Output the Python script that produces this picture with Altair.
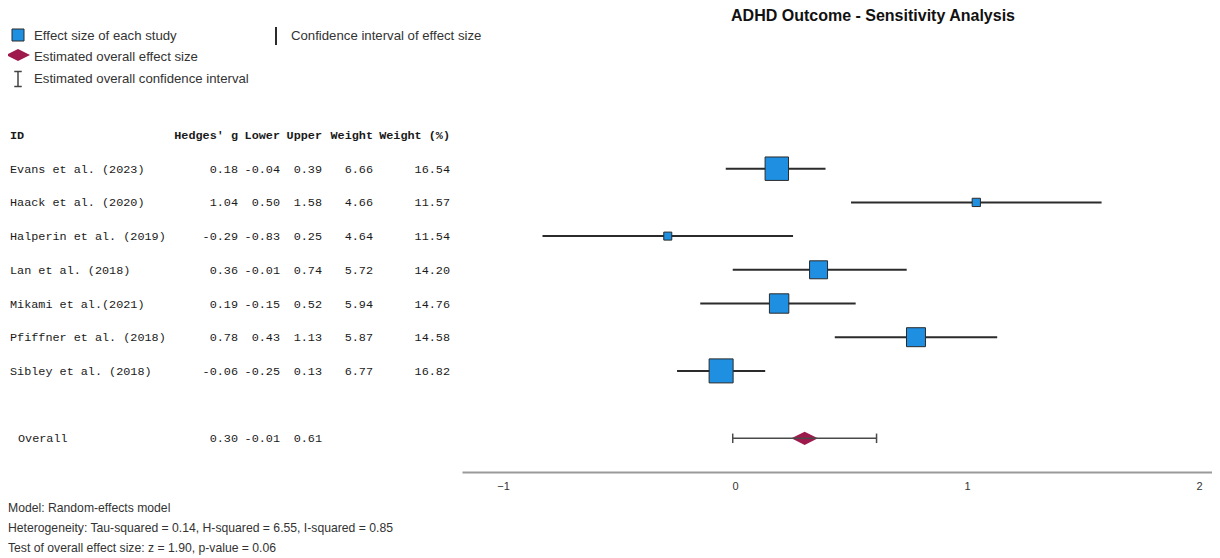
import altair as alt
import pandas as pd

# ---------------- data ----------------
studies = ["Evans et al. (2023)", "Haack et al. (2020)", "Halperin et al. (2019)",
           "Lan et al. (2018)", "Mikami et al.(2021)", "Pfiffner et al. (2018)",
           "Sibley et al. (2018)"]
hedges_g = [0.18, 1.04, -0.29, 0.36, 0.19, 0.78, -0.06]
lower = [-0.04, 0.50, -0.83, -0.01, -0.15, 0.43, -0.25]
upper = [0.39, 1.58, 0.25, 0.74, 0.52, 1.13, 0.13]
weight = [6.66, 4.66, 4.64, 5.72, 5.94, 5.87, 6.77]
weight_pct = [16.54, 11.57, 11.54, 14.20, 14.76, 14.58, 16.82]

overall_label = "Overall"
overall_g = 0.30
overall_lower = -0.01
overall_upper = 0.61

x_ticks = [-1, 0, 1, 2]
headers = ["ID", "Hedges' g", "Lower", "Upper", "Weight", "Weight (%)"]
title_text = "ADHD Outcome - Sensitivity Analysis"
legend_labels = ["Effect size of each study", "Estimated overall effect size",
                 "Estimated overall confidence interval", "Confidence interval of effect size"]
footer_lines = ["Model: Random-effects model",
                "Heterogeneity: Tau-squared = 0.14, H-squared = 6.55, I-squared = 0.85",
                "Test of overall effect size: z = 1.90, p-value = 0.06"]

# ---------------- tables ----------------
study_df = pd.DataFrame({
    "id": studies,
    "row": list(range(1, len(studies) + 1)),
    "g": hedges_g, "lo": lower, "hi": upper,
    "w": weight, "wp": weight_pct,
})
for c in ["g", "lo", "hi", "w", "wp"]:
    study_df[c + "_s"] = study_df[c].map(lambda v: f"{v:.2f}")

overall_df = pd.DataFrame({
    "id": [overall_label], "row": [len(studies) + 2],
    "g": [overall_g], "lo": [overall_lower], "hi": [overall_upper],
})
for c in ["g", "lo", "hi"]:
    overall_df[c + "_s"] = overall_df[c].map(lambda v: f"{v:.2f}")

header_df = pd.DataFrame({"h": headers, "row": [0] * len(headers)})

one = alt.Data(values=[{}])

# ---------------- styles ----------------
BLUE = "#1E8FE1"
MAROON = "#9E1A4C"
DARK = "#2b2b2b"
MONO = "Liberation Mono"
SANS = "Liberation Sans"
DIAMOND = "M-1,0L0,-0.5L1,0L0,0.5Z"

W = 1204
H = 550
AXIS_Y = 464

xscale = alt.Scale(domain=[-1.177, 2.056], range=[454, W], nice=False, zero=False)
yscale = alt.Scale(domain=[0, 10], range=[127, AXIS_Y], nice=False, zero=False)

X = lambda f: alt.X(f, type="quantitative", scale=xscale,
                    axis=alt.Axis(values=x_ticks, title=None, grid=False, ticks=False,
                                  domainColor="#9a9a9a", domainWidth=2, labelFontSize=11,
                                  labelColor="#333", labelFont=SANS, labelPadding=8,
                                  format="d", offset=AXIS_Y - H))
Y = alt.Y("row:Q", scale=yscale, axis=None)

# ---------------- forest plot ----------------
squares = alt.Chart(study_df).mark_square(
    filled=True, fill=BLUE, stroke=DARK, strokeWidth=1, opacity=1
).encode(
    x=X("g"), y=Y,
    size=alt.Size("w:Q", scale=alt.Scale(domain=[4.64, 6.77], range=[64, 576]), legend=None),
)
ci = alt.Chart(study_df).mark_rule(color=DARK, strokeWidth=2).encode(
    x=X("lo"), x2="hi", y=Y)

diamond = alt.Chart(overall_df).mark_point(
    shape=DIAMOND, filled=True, fill=MAROON, opacity=1, size=700, strokeWidth=0
).encode(x=X("g"), y=Y)
ov_ci = alt.Chart(overall_df).mark_rule(color="#4a4a4a", strokeWidth=1.5).encode(
    x=X("lo"), x2="hi", y=Y)
cap_lo = alt.Chart(overall_df).mark_point(
    shape="M0,-1L0,1", filled=False, color="#4a4a4a", strokeWidth=1.5, size=90, opacity=1
).encode(x=X("lo"), y=Y)
cap_hi = alt.Chart(overall_df).mark_point(
    shape="M0,-1L0,1", filled=False, color="#4a4a4a", strokeWidth=1.5, size=90, opacity=1
).encode(x=X("hi"), y=Y)

# ---------------- table text ----------------
FS = 11.8


def col(df, field, xpos, align="right", weight="normal"):
    return alt.Chart(df).mark_text(
        align=align, baseline="middle", font=MONO, fontSize=FS, color="#1a1a1a",
        fontWeight=weight
    ).encode(x=alt.value(xpos), y=Y, text=field + ":N")


col_x = [2, 230, 272, 314, 365, 442]
table = [
    col(study_df, "id", col_x[0], "left"),
    col(study_df, "g_s", col_x[1]),
    col(study_df, "lo_s", col_x[2]),
    col(study_df, "hi_s", col_x[3]),
    col(study_df, "w_s", col_x[4]),
    col(study_df, "wp_s", col_x[5]),
    col(overall_df, "id", 10, "left"),
    col(overall_df, "g_s", col_x[1]),
    col(overall_df, "lo_s", col_x[2]),
    col(overall_df, "hi_s", col_x[3]),
]
header_layers = [
    col(header_df.iloc[[i]], "h", col_x[i], "left" if i == 0 else "right", "bold")
    for i in range(len(headers))
]

# ---------------- legend ----------------
LFS = 13.2


def label(txt, x, y, size=LFS):
    return alt.Chart(one).mark_text(
        align="left", baseline="middle", font=SANS, fontSize=size, color="#333", text=txt
    ).encode(x=alt.value(x), y=alt.value(y))


leg = [
    alt.Chart(one).mark_square(filled=True, fill=BLUE, stroke=DARK, strokeWidth=1,
                               size=144, opacity=1).encode(x=alt.value(10), y=alt.value(27)),
    label(legend_labels[0], 26, 28),
    alt.Chart(one).mark_point(shape=DIAMOND, filled=True, fill=MAROON,
                              size=576, opacity=1, strokeWidth=0).encode(x=alt.value(10), y=alt.value(47)),
    label(legend_labels[1], 26, 49),
    alt.Chart(one).mark_point(shape="M-0.5,-1L0.5,-1M0,-1L0,1M-0.5,1L0.5,1", filled=False,
                              color="#444", strokeWidth=1.5, size=225, opacity=1
                              ).encode(x=alt.value(10), y=alt.value(71)),
    label(legend_labels[2], 26, 71),
    alt.Chart(one).mark_rule(color=DARK, strokeWidth=2).encode(
        x=alt.value(268), y=alt.value(19), y2=alt.value(37)),
    label(legend_labels[3], 283, 28),
]

title = alt.Chart(one).mark_text(
    align="center", baseline="alphabetic", font=SANS, fontSize=16, fontWeight="bold",
    color="#111", text=title_text
).encode(x=alt.value(865), y=alt.value(13))

footer = [label(t, 0, 500 + 20 * i, 12.2) for i, t in enumerate(footer_lines)]

chart = alt.layer(
    ci, squares, diamond, ov_ci, cap_lo, cap_hi,
    *table, *header_layers, *leg, title, *footer
).properties(
    width=W, height=H, padding=0,
    autosize=alt.AutoSizeParams(type="none"),
).configure_view(stroke=None)

chart.save("out.html", embed_options={"renderer": "svg", "actions": False})
